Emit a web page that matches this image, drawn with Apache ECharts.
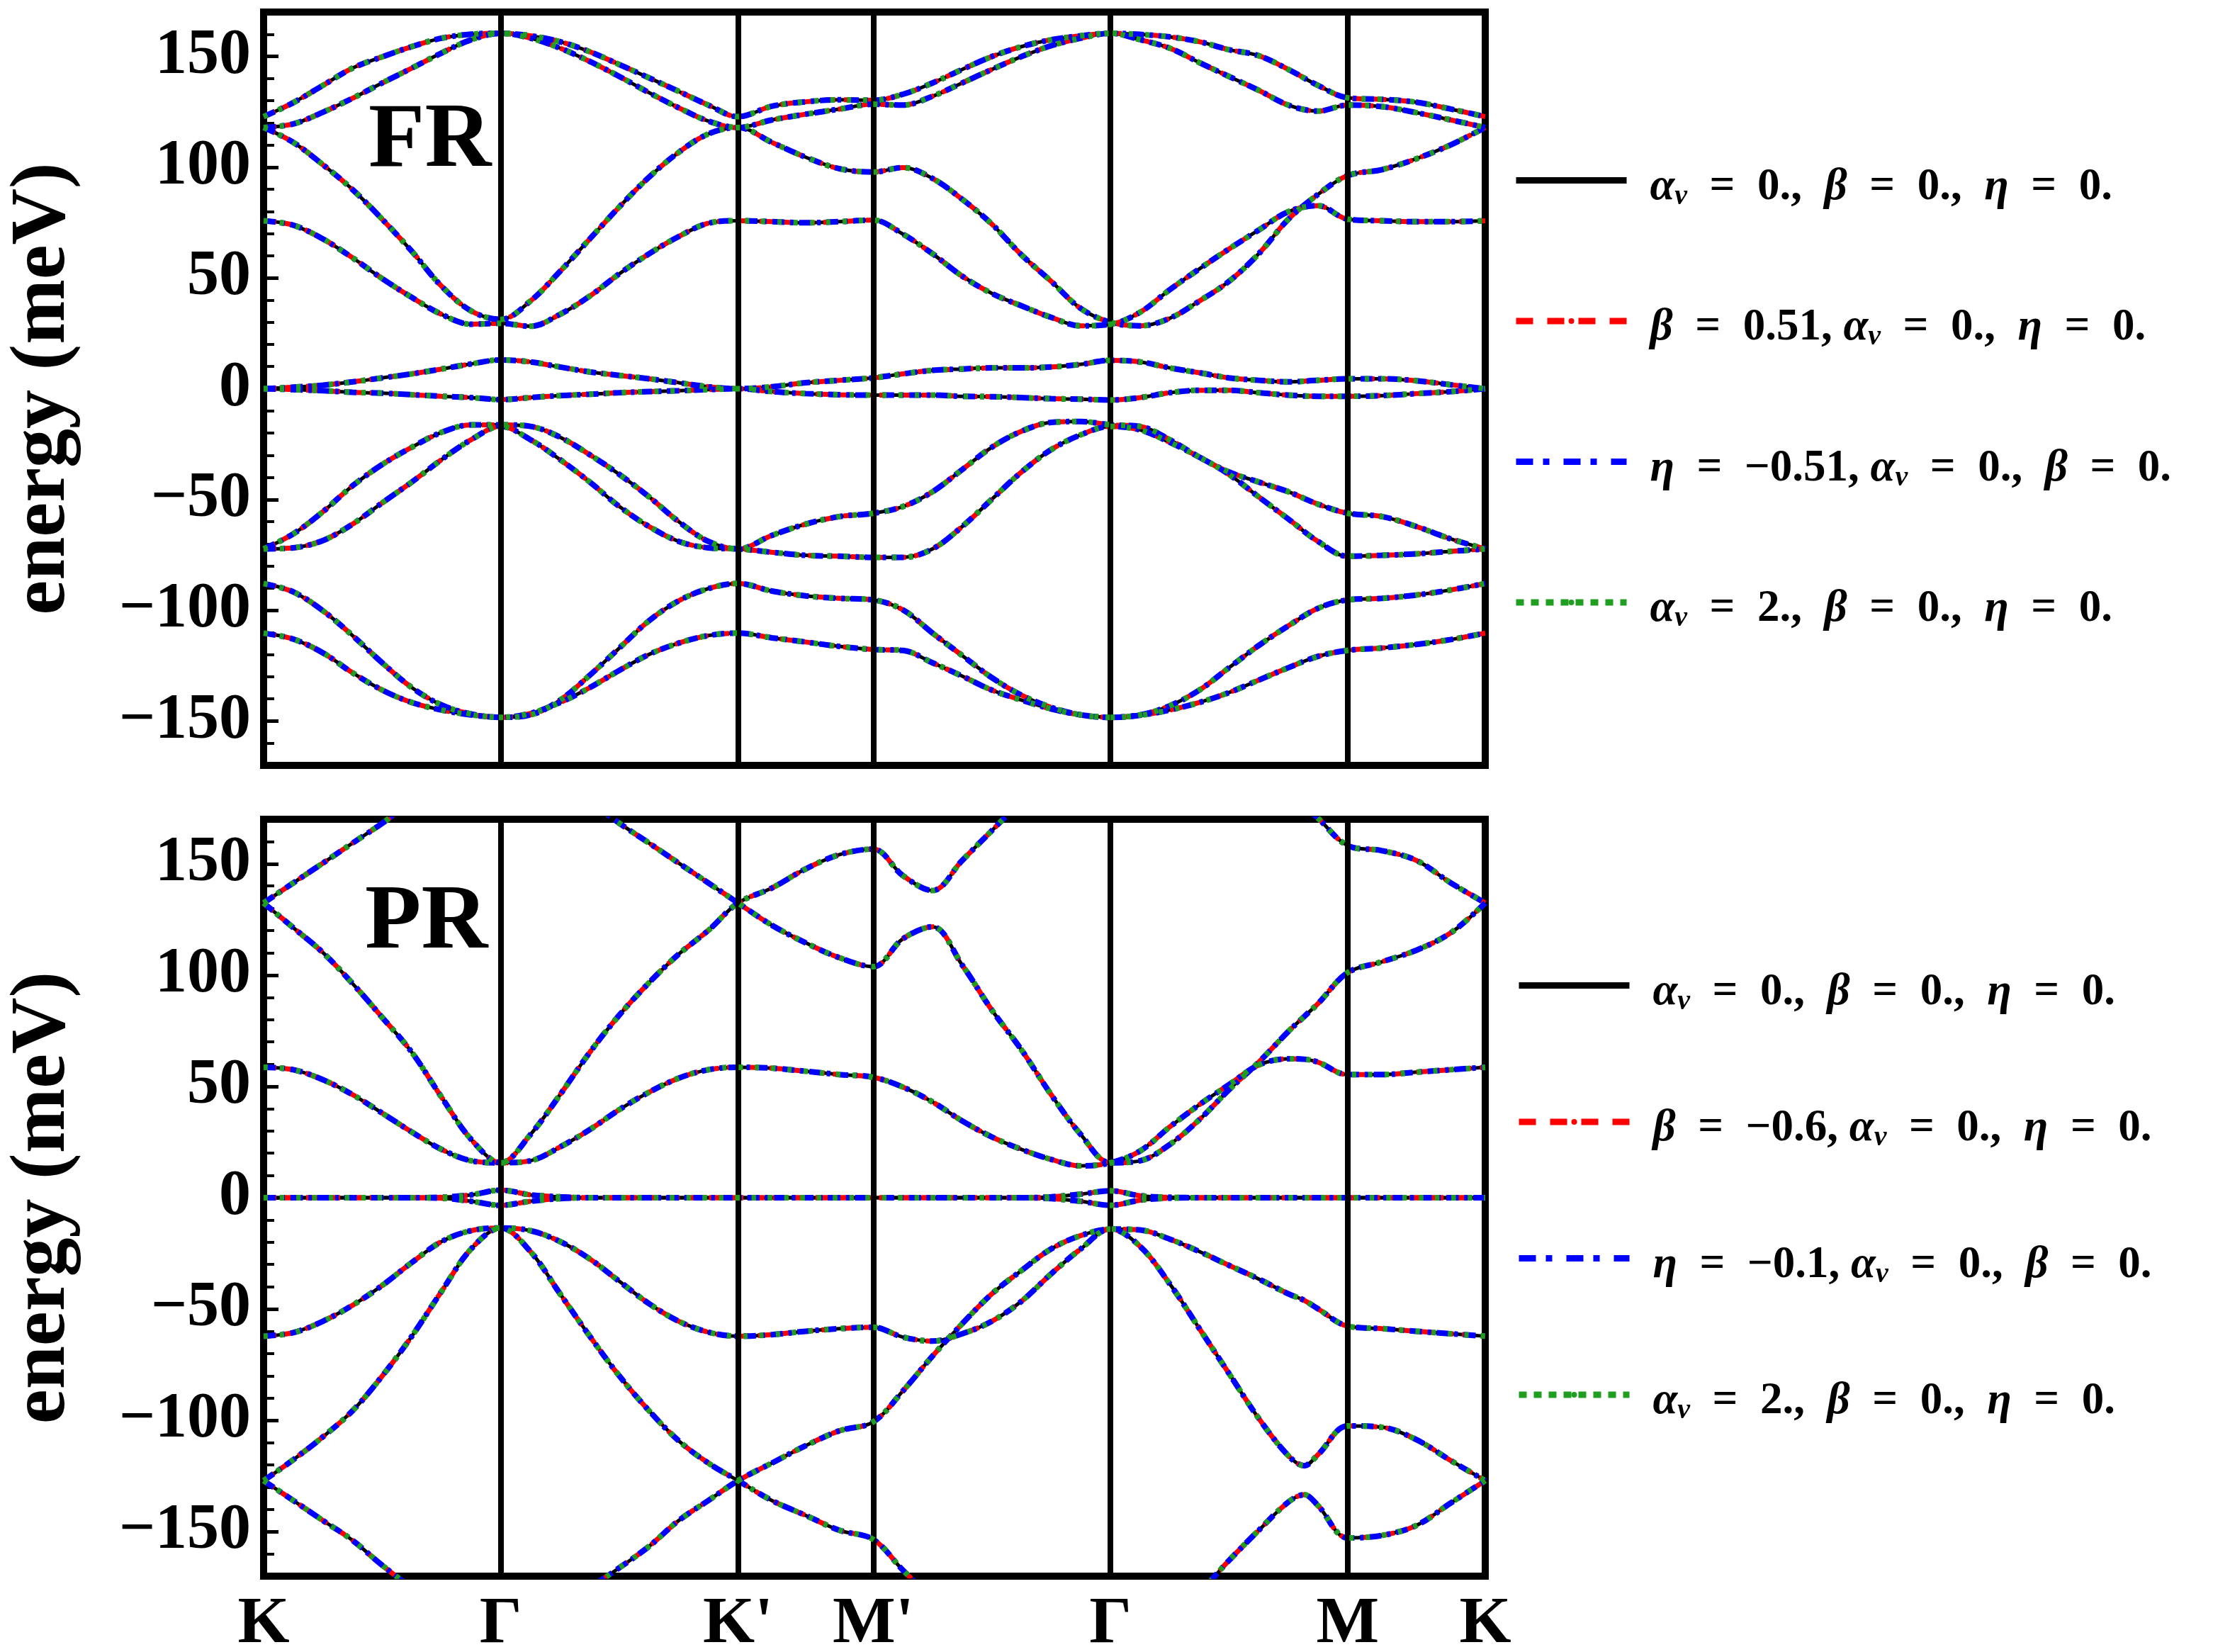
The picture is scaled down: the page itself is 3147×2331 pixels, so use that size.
<!DOCTYPE html>
<html>
<head>
<meta charset="utf-8">
<script src="https://cdn.jsdelivr.net/npm/echarts@6/dist/echarts.min.js"></script>
<style>
  html, body { margin: 0; padding: 0; background: #fff; }
  #chart { width: 3147px; height: 2331px; }
</style>
</head>
<body>
<div id="chart"></div>
<script>
// high-symmetry points along the path
const pathTicks = [0, 1, 2, 2.57, 3.57, 4.57, 5.15];
const pathLabels = ['K', 'Γ', "K'", "M'", 'Γ', 'M', 'K'];
const energyTicks = [-150, -100, -50, 0, 50, 100, 150];

// sample positions along the path (FR panel)
const frX = [0, 0.125, 0.25, 0.375, 0.5, 0.625, 0.75, 0.875, 1,
  1.125, 1.25, 1.375, 1.5, 1.625, 1.75, 1.875, 2,
  2.1425, 2.285, 2.4275, 2.57,
  2.695, 2.82, 2.945, 3.07, 3.195, 3.32, 3.445, 3.57,
  3.695, 3.82, 3.945, 4.07, 4.195, 4.32, 4.445, 4.57,
  4.715, 4.86, 5.005, 5.15];

// FR bands (meV)
const frBand1 = [122.8, 129.1, 136.9, 144.7, 149.8, 154.4, 158.2, 160.0, 160.4,
  159.3, 156.6, 152.1, 146.3, 140.3, 134.2, 128.0, 122.8,
  127.5, 129.5, 130.4, 130.2,
  132.9, 138.0, 144.1, 149.9, 154.4, 157.5, 159.3, 160.4,
  159.9, 158.8, 156.6, 153.0, 150.3, 144.1, 136.9, 131.3,
  130.6, 129.3, 126.2, 122.8];
const frBand2 = [117.9, 119.5, 124.8, 131.1, 138.0, 144.7, 151.5, 157.5, 160.4,
  158.2, 153.7, 147.7, 140.9, 133.6, 126.8, 120.8, 117.9,
  121.3, 123.9, 126.2, 128.4,
  128.0, 132.0, 138.0, 144.1, 149.9, 154.8, 158.2, 160.4,
  157.5, 153.7, 147.2, 140.9, 134.7, 128.0, 125.3, 128.0,
  127.3, 124.6, 121.3, 117.9];
const frBand3 = [117.9, 111.2, 101.1, 89.9, 76.5, 62.0, 46.3, 35.1, 31.3,
  39.6, 53.0, 67.6, 82.1, 95.5, 106.7, 115.0, 117.9,
  111.2, 104.5, 99.3, 97.8,
  99.8, 94.9, 85.5, 74.3, 60.4, 48.5, 36.2, 30.0,
  28.4, 31.8, 39.6, 48.5, 60.9, 76.5, 87.7, 96.2,
  98.9, 103.8, 110.1, 117.9];
const frBand4 = [75.8, 73.8, 67.6, 59.1, 49.7, 41.2, 33.6, 29.1, 29.5,
  28.2, 33.6, 41.8, 51.9, 60.9, 68.7, 74.7, 75.8,
  75.4, 74.9, 75.4, 76.1,
  69.8, 60.9, 50.8, 43.0, 37.4, 32.2, 28.4, 29.1,
  34.5, 44.7, 54.1, 63.1, 71.6, 79.9, 82.6, 76.5,
  75.8, 75.4, 75.4, 75.8];
const frBand5 = [0, 0.7, 1.6, 3.1, 4.9, 6.7, 8.9, 11.2, 13.0,
  12.1, 9.8, 7.6, 6.0, 4.5, 2.7, 0.9, 0,
  0.9, 2.7, 3.8, 4.9,
  6.7, 8.3, 8.9, 9.4, 9.4, 9.8, 11.0, 12.8,
  12.1, 9.4, 7.2, 4.9, 3.8, 3.1, 3.8, 4.5,
  4.5, 3.6, 1.8, 0];
const frBand6 = [0, -0.4, -0.9, -1.6, -2.0, -2.7, -3.4, -4.0, -4.9,
  -4.0, -3.1, -2.5, -1.8, -1.3, -0.9, -0.4, 0,
  -1.3, -2.2, -2.7, -2.9,
  -2.9, -2.9, -3.4, -3.6, -4.0, -4.5, -4.7, -5.1,
  -4.0, -1.8, -0.7, -0.7, -1.8, -2.9, -3.4, -3.4,
  -3.1, -2.2, -1.3, 0];
const frBand7 = [-72.3, -65.5, -55.5, -43.8, -34.2, -26.4, -19.7, -16.3, -16.3,
  -17.0, -21.9, -29.8, -38.7, -48.8, -60.0, -68.9, -72.3,
  -66.2, -61.1, -57.7, -56.2,
  -53.2, -46.5, -36.5, -26.4, -19.2, -15.2, -14.8, -16.3,
  -17.0, -23.0, -30.9, -37.6, -42.1, -46.5, -52.1, -56.2,
  -57.7, -62.2, -67.8, -72.3];
const frBand8 = [-72.3, -71.8, -68.5, -61.1, -51.5, -42.1, -32.0, -23.0, -17.0,
  -23.0, -32.0, -42.1, -53.2, -62.2, -68.9, -71.8, -72.3,
  -73.8, -75.2, -75.6, -76.1,
  -76.1, -72.3, -62.2, -49.9, -37.6, -27.5, -20.8, -17.0,
  -18.6, -24.2, -30.9, -38.7, -48.8, -58.8, -68.9, -75.6,
  -75.2, -74.5, -73.4, -72.3];
const frBand9 = [-87.9, -91.7, -100.2, -111.4, -123.7, -134.9, -142.7, -146.8, -148.3,
  -147.2, -140.5, -129.3, -117.0, -104.7, -95.7, -90.2, -87.9,
  -91.3, -93.5, -94.6, -95.3,
  -99.8, -110.3, -120.4, -130.4, -138.3, -143.8, -147.2, -148.3,
  -147.2, -143.1, -136.0, -125.9, -115.9, -107.0, -99.1, -95.3,
  -94.6, -93.1, -90.8, -87.9];
const frBand10 = [-110.3, -113.0, -119.2, -128.2, -136.0, -141.6, -145.0, -147.2, -148.3,
  -146.5, -141.6, -134.9, -127.1, -119.9, -114.8, -111.4, -110.3,
  -112.4, -114.3, -116.3, -117.7,
  -118.1, -123.7, -129.7, -136.0, -140.5, -144.5, -147.2, -148.3,
  -147.4, -145.0, -141.6, -137.1, -131.5, -125.9, -120.8, -118.1,
  -117.0, -115.4, -113.2, -110.3];

// sample positions (PR panel), one extra point near the avoided crossing
const prX = [0, 0.125, 0.25, 0.375, 0.5, 0.625, 0.75, 0.875, 1,
  1.125, 1.25, 1.375, 1.5, 1.625, 1.75, 1.875, 2,
  2.1425, 2.285, 2.4275, 2.57,
  2.695, 2.82, 2.945, 3.07, 3.195, 3.32, 3.445, 3.57,
  3.695, 3.82, 3.945, 4.07, 4.195, 4.32, 4.387, 4.445, 4.57,
  4.715, 4.86, 5.005, 5.15];

// PR bands (meV), values outside +-170 run off the frame
const prBand1 = [132.4, 141.4, 150.3, 159.3, 168.2, 178, 186, 191, 193,
  191, 186, 178, 168.2, 159.3, 150.3, 141.4, 132.4,
  122.4, 114.5, 107.8, 103.8,
  116.3, 121.7, 104.5, 84.3, 66.4, 46.3, 28.4, 15.7,
  16.6, 23.9, 35.1, 48.5, 60.9, 74.7, 81.4, 87.2, 101.1,
  106.0, 111.2, 119.0, 132.4];
const prBand2 = [132.4, 121.3, 110.1, 96.2, 81.0, 65.3, 45.2, 26.2, 15.7,
  28.4, 46.3, 65.3, 82.1, 96.6, 109.4, 120.1, 132.4,
  139.1, 147.7, 154.1, 156.6,
  144.7, 138.0, 151.5, 164.9, 178, 188, 194, 196,
  198, 199, 198, 196, 192, 185, 176, 170.5, 158.2,
  155.9, 151.5, 141.4, 132.4];
const prBand3 = [58.6, 57.5, 53.0, 46.3, 38.0, 29.5, 21.7, 16.6, 15.7,
  16.6, 22.8, 30.6, 39.6, 47.4, 53.7, 57.5, 58.6,
  58.2, 56.8, 55.3, 54.1,
  49.7, 43.0, 34.5, 27.3, 21.7, 17.2, 14.3, 15.7,
  21.0, 31.8, 41.8, 50.8, 59.6, 62.4, 62.2, 60.9, 55.3,
  55.3, 56.4, 57.5, 58.6];
const prBand4 = [0, 0, 0, 0, 0, 0, 0.2, 1.3, 3.4,
  1.3, 0.4, 0, 0, 0, 0, 0, 0,
  0, 0, 0, 0,
  0, 0, 0, 0, 0, 0.4, 1.6, 3.1,
  0.9, 0.2, 0, 0, 0, 0, 0, 0, 0,
  0, 0, 0, 0];
const prBand5 = [0, 0, 0, 0, 0, 0, -0.2, -1.6, -3.4,
  -1.6, -0.4, 0, 0, 0, 0, 0, 0,
  0, 0, 0, 0,
  0, 0, 0, 0, 0, -0.4, -1.6, -3.4,
  -1.1, -0.2, 0, 0, 0, 0, 0, 0, 0,
  0, 0, 0, 0];
const prBand6 = [-62.2, -60.6, -55.5, -48.3, -39.4, -29.1, -19.7, -14.8, -13.6,
  -14.8, -19.7, -27.5, -37.6, -47.6, -55.5, -60.4, -62.2,
  -61.5, -60.0, -58.8, -58.2,
  -62.6, -64.4, -61.1, -55.5, -46.5, -34.2, -23.0, -14.1,
  -14.5, -18.6, -24.2, -30.4, -36.5, -43.2, -46.1, -49.9, -57.7,
  -58.8, -60.0, -61.1, -62.2];
const prBand7 = [-127.1, -117.7, -107.4, -95.7, -80.1, -62.2, -42.1, -23.0, -13.6,
  -24.2, -43.2, -62.2, -80.1, -95.7, -109.2, -119.2, -127.1,
  -136.0, -142.7, -149.4, -153.5,
  -167.3, -180, -190, -196, -199, -200, -199, -198,
  -192, -186, -177, -162.9, -149.4, -136.7, -133.4, -138.3, -152.8,
  -151.7, -147.2, -137.1, -127.1];
const prBand8 = [-127.1, -136.0, -145.0, -153.9, -165.1, -175, -182, -186, -187,
  -186, -182, -175, -166.2, -156.6, -145.0, -136.0, -127.1,
  -119.2, -111.4, -104.7, -100.7,
  -86.8, -71.1, -56.6, -43.2, -32.7, -23.0, -17.0, -14.1,
  -21.9, -38.7, -58.8, -79.0, -99.1, -115.9, -120.4, -115.4, -102.5,
  -103.1, -108.7, -118.1, -127.1];

const frBands = [frBand1, frBand2, frBand3, frBand4, frBand5, frBand6, frBand7, frBand8, frBand9, frBand10];
const prBands = [prBand1, prBand2, prBand3, prBand4, prBand5, prBand6, prBand7, prBand8];

// the four parameter sets, drawn on top of each other
const curveStyles = [
  { key: 'a', color: '#000000', width: 5, type: 'solid', legendType: 'solid' },
  { key: 'b', color: '#ff0000', width: 7, type: [18, 12], legendType: [24, 20] },
  { key: 'c', color: '#0000ff', width: 8, type: [17, 8, 5, 8], legendType: [24, 14, 9, 20] },
  { key: 'd', color: '#1f9e1f', width: 8, type: [6, 17], legendType: [11, 10] }
];

// double spaces mimic the wide operator spacing of the original
const nu = '{g|α}{s|ν}';
const legendText = {
  fr_a: nu + '{t|  =  0.,  }{g|β}{t|  =  0.,  }{g|η}{t|  =  0.}',
  fr_b: '{g|β}{t|  =  0.51, }' + nu + '{t|  =  0.,  }{g|η}{t|  =  0.}',
  fr_c: '{g|η}{t|  =  −0.51, }' + nu + '{t|  =  0.,  }{g|β}{t|  =  0.}',
  fr_d: nu + '{t|  =  2.,  }{g|β}{t|  =  0.,  }{g|η}{t|  =  0.}',
  pr_a: nu + '{t|  =  0.,  }{g|β}{t|  =  0.,  }{g|η}{t|  =  0.}',
  pr_b: '{g|β}{t|  =  −0.6, }' + nu + '{t|  =  0.,  }{g|η}{t|  =  0.}',
  pr_c: '{g|η}{t|  =  −0.1, }' + nu + '{t|  =  0.,  }{g|β}{t|  =  0.}',
  pr_d: nu + '{t|  =  2.,  }{g|β}{t|  =  0.,  }{g|η}{t|  =  0.}'
};

const serif = 'Liberation Serif';

function fmtEnergy(v) {
  return v < 0 ? '\u2212' + (-v) : String(v);
}

function fmtPath(v) {
  let best = 0;
  pathTicks.forEach((t, i) => { if (Math.abs(t - v) < Math.abs(pathTicks[best] - v)) best = i; });
  return pathLabels[best];
}

function yAxes(gridIndex) {
  return [{
    gridIndex: gridIndex,
    type: 'value', min: -170, max: 170, interval: 10,
    name: 'energy (meV)', nameLocation: 'middle', nameGap: 255,
    nameTextStyle: { fontFamily: serif, fontWeight: 'bold', fontSize: 110, color: '#000' },
    axisLine: { show: false },
    axisTick: { show: true, inside: true, length: 15, lineStyle: { color: '#000', width: 4 } },
    axisLabel: {
      customValues: energyTicks, formatter: fmtEnergy, margin: 18,
      fontFamily: serif, fontWeight: 'bold', fontSize: 90, color: '#000'
    },
    splitLine: { show: false }
  }, {
    gridIndex: gridIndex,
    type: 'value', min: -170, max: 170, position: 'left',
    axisLine: { show: false },
    axisLabel: { show: false },
    splitLine: { show: false },
    axisTick: { show: true, inside: true, length: 21, customValues: energyTicks, lineStyle: { color: '#000', width: 5 } }
  }];
}

function bandSeries(prefix, xs, bands, xAxisIndex, yAxisIndex) {
  const out = [];
  curveStyles.forEach((st, si) => {
    bands.forEach((band) => {
      out.push({
        type: 'line',
        name: prefix + '_' + st.key,
        xAxisIndex: xAxisIndex,
        yAxisIndex: yAxisIndex,
        data: xs.map((x, i) => [x, band[i]]),
        symbol: 'none',
        smooth: 0.35,
        clip: true,
        z: 2 + si,
        lineStyle: { color: st.color, width: st.width, type: st.type },
        itemStyle: { color: st.color },
        emphasis: { disabled: true }
      });
    });
  });
  // vertical lines at the high-symmetry points, on top of the curves
  const last = out[out.length - 1];
  last.markLine = {
    silent: true,
    symbol: ['none', 'none'],
    label: { show: false },
    lineStyle: { color: '#000', width: 8, type: 'solid' },
    data: pathTicks.slice(1, -1).map(x => ({ xAxis: x }))
  };
  return out;
}

function legendFor(prefix, left, top, gap) {
  return {
    orient: 'vertical',
    left: left, top: top,
    itemWidth: 156, itemHeight: 10, itemGap: gap,
    selectedMode: false,
    data: curveStyles.map(st => ({
      name: prefix + '_' + st.key,
      lineStyle: { width: 9, type: st.legendType, color: st.color }
    })),
    formatter: name => legendText[name],
    textStyle: {
      padding: [20, 0, 0, 28],
      rich: {
        t: { fontFamily: serif, fontWeight: 'bold', fontSize: 63, lineHeight: 66, color: '#000' },
        g: { fontFamily: serif, fontWeight: 'bold', fontStyle: 'italic', fontSize: 63, lineHeight: 66, color: '#000' },
        s: { fontFamily: serif, fontWeight: 'bold', fontStyle: 'italic', fontSize: 40, lineHeight: 36, verticalAlign: 'bottom', color: '#000' }
      }
    }
  };
}

const chart = echarts.init(document.getElementById('chart'));

chart.setOption({
  backgroundColor: '#ffffff',
  animation: false,
  title: [
    { text: 'FR', left: 520, top: 135, padding: 0,
      textStyle: { fontFamily: serif, fontWeight: 'bold', fontSize: 130, color: '#000' } },
    { text: 'PR', left: 515, top: 1238, padding: 0,
      textStyle: { fontFamily: serif, fontWeight: 'bold', fontSize: 130, color: '#000' } }
  ],
  legend: [legendFor('fr', 2130, 228, 134), legendFor('pr', 2134, 1364, 128)],
  grid: [
    { left: 372, top: 17, width: 1724, height: 1063, show: true, borderColor: '#000', borderWidth: 10, outerBoundsMode: 'none' },
    { left: 372, top: 1156, width: 1724, height: 1068, show: true, borderColor: '#000', borderWidth: 10, outerBoundsMode: 'none' }
  ],
  xAxis: [
    { gridIndex: 0, type: 'value', min: 0, max: 5.15,
      axisLine: { show: false }, axisTick: { show: false }, axisLabel: { show: false }, splitLine: { show: false } },
    { gridIndex: 1, type: 'value', min: 0, max: 5.15,
      axisLine: { show: false }, axisTick: { show: false }, splitLine: { show: false },
      axisLabel: {
        customValues: pathTicks, formatter: fmtPath, margin: 22,
        showMinLabel: true, showMaxLabel: true,
        fontFamily: serif, fontWeight: 'bold', fontSize: 94, color: '#000'
      } }
  ],
  yAxis: [].concat(yAxes(0), yAxes(1)),
  series: [].concat(
    bandSeries('fr', frX, frBands, 0, 0),
    bandSeries('pr', prX, prBands, 1, 2)
  )
});
</script>
</body>
</html>
